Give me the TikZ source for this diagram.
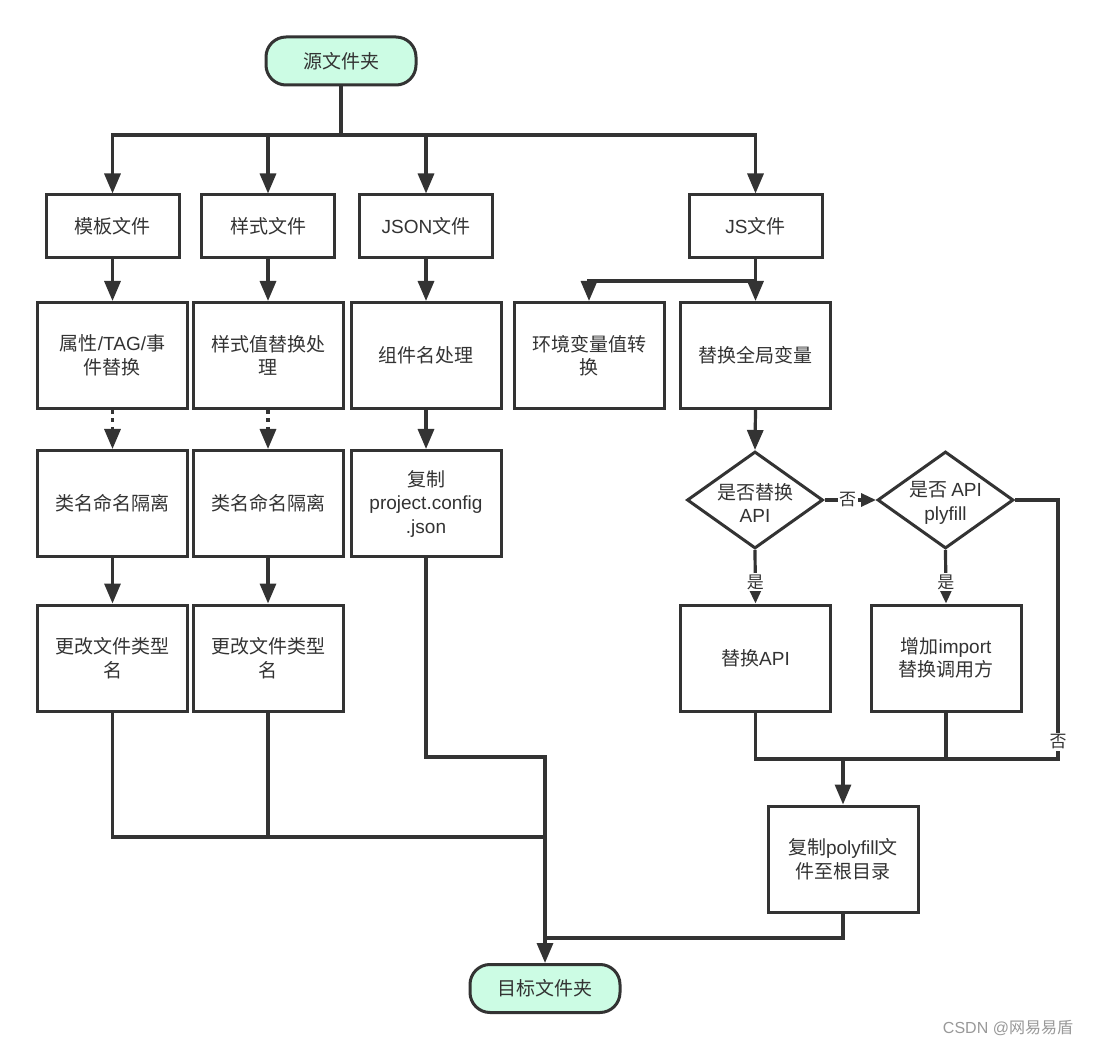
\documentclass[tikz,border=0pt]{standalone}
\usepackage{fontspec}
\setmainfont{Noto Sans CJK SC}
\newfontfamily\lat{Liberation Sans}
\usetikzlibrary{arrows.meta,shapes.geometric}
\definecolor{lc}{HTML}{333333}
\definecolor{tc}{HTML}{333333}
\definecolor{mint}{RGB}{204,252,228}
\newcommand\myfs{\fontsize{19}{23.5}\selectfont}
\newcommand\mylfs{\fontsize{17}{20}\selectfont}
\tikzset{
  box/.style={draw=lc, line width=3pt, minimum width=150pt, minimum height=106pt,
    align=center, inner sep=2pt, text=tc, font=\myfs},
  hbox/.style={box, minimum width=133pt, minimum height=63pt},
  term/.style={box, fill=mint, rounded corners=20pt, minimum height=48pt},
  dia/.style={draw=lc, line width=3pt, diamond, minimum width=136pt, minimum height=97pt, inner sep=0pt},
  dtext/.style={align=center, text=tc, font=\myfs, inner sep=0pt},
  line/.style={draw=lc, line width=3.2pt},
  arr/.style={line, -{Triangle[length=20pt,width=16pt]}},
  sarr/.style={line, -{Triangle[length=15pt,width=13pt]}},
  lbl/.style={fill=white, inner sep=1.5pt, font=\mylfs, text=tc},
}
\begin{document}
\begin{tikzpicture}[x=1pt,y=-1pt]
\useasboundingbox (0,0) rectangle (1096,1048);
\fill[white] (0,0) rectangle (1096,1048);
% nodes
\node[term] (src) at (341,61) {源文件夹};
\node[hbox] (mb) at (112.5,226.5) {模板文件};
\node[hbox] (ys) at (268,226.5) {样式文件};
\node[hbox] (js) at (426,226.5) {{\lat JSON}文件};
\node[hbox] (jsf) at (755.5,226.5) {{\lat JS}文件};
\node[box] (r2a) at (112.5,355.5) {属性{\lat /TAG/}事\\件替换};
\node[box] (r2b) at (268,355.5) {样式值替换处\\理};
\node[box] (r2c) at (426,355.5) {组件名处理};
\node[box] (r2d) at (589,355.5) {环境变量值转\\换};
\node[box] (r2e) at (755.5,355.5) {替换全局变量};
\node[box] (r3a) at (112.5,503.5) {类名命名隔离};
\node[box] (r3b) at (268,503.5) {类名命名隔离};
\node[box] (r3c) at (426,503.5) {复制\\{\lat project.config}\\{\lat .json}};
\node[box] (r4a) at (112.5,658) {更改文件类型\\名};
\node[box] (r4b) at (268,658) {更改文件类型\\名};
\node[dia] (d1) at (755,500) {};
\node[dtext] (d1t) at (755,503) {是否替换\\{\lat API}};
\node[dia] (d2) at (945.5,500) {};
\node[dtext] (d2t) at (945.5,503) {是否 {\lat API}\\{\lat plyfill}};
\node[box] (api) at (755.5,658) {替换{\lat API}};
\node[box] (imp) at (946,658) {增加{\lat import}\\替换调用方};
\node[box] (cp) at (843,859) {复制{\lat polyfill}文\\件至根目录};
\node[term] (dst) at (545,988.5) {目标文件夹};
% connectors
\coordinate (b1) at (341,135);
\draw[line] (src.south) -- (b1);
\foreach \n in {mb,ys,js,jsf} \draw[arr] (b1) -| (\n.north);
\coordinate (b2) at (755.5,281);
\draw[arr] (jsf.south) -- (b2) -| (r2d.north);
\draw[arr] (b2) -- (r2e.north);
\draw[arr] (mb.south) -- (r2a.north);
\draw[arr] (ys.south) -- (r2b.north);
\draw[arr] (js.south) -- (r2c.north);
\draw[arr, dash pattern=on 4pt off 4.5pt] (r2a.south) -- (r3a.north);
\draw[arr, dash pattern=on 4pt off 4.5pt] (r2b.south) -- (r3b.north);
\draw[arr] (r2c.south) -- (r3c.north);
\draw[arr] (r3a.south) -- (r4a.north);
\draw[arr] (r3b.south) -- (r4b.north);
\draw[arr] (r2e.south) -- (d1.north);
\draw[sarr] (d1.east) -- node[lbl,pos=0.45] (n1) {否} (d2.west);
\draw[sarr] (d1.south) -- node[lbl,pos=0.6] (y1) {是} (api.north);
\draw[sarr] (d2.south) -- node[lbl,pos=0.6] (y2) {是} (imp.north);
\coordinate (r1) at (1058,759);
\coordinate (jn) at (843,759);
\draw[line] (d2.east) -| (r1) -- (api.south |- r1) -- (api.south);
\draw[line] (imp.south) -- (imp.south |- r1);
\node[lbl] (n2) at (1058,742) {否};
\draw[arr] (jn) -- (cp.north);
\coordinate (j3) at (545,757);
\coordinate (j4) at (545,837);
\coordinate (j2) at (545,938);
\draw[arr] (r3c.south) |- (j3) -- (dst.north);
\draw[line] (r4a.south) |- (j4);
\draw[line] (r4b.south) -- (r4b.south |- j4);
\draw[line] (cp.south) |- (j2);
\node[font=\fontsize{16}{16}\selectfont, text=black!40, inner sep=0pt] (wm) at (1008,1028) {{\lat CSDN @}网易易盾};
\end{tikzpicture}
\end{document}
